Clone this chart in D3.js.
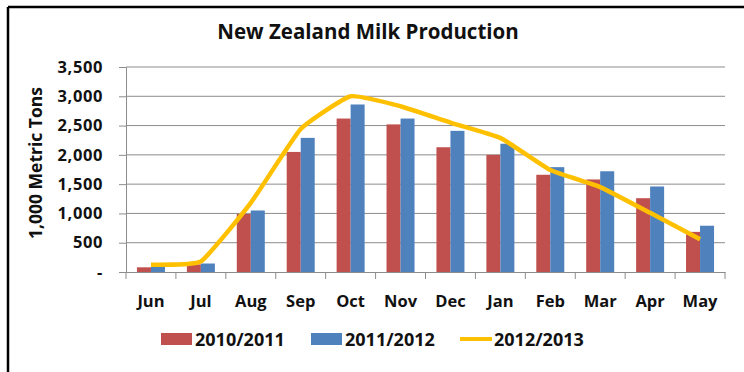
<!DOCTYPE html>
<html><head><meta charset="utf-8">
<script src="https://d3js.org/d3.v7.min.js"></script>
<style>
  body { margin: 0; background: #fff; }
  svg text { font-family: "Open Sans", "Liberation Sans", sans-serif; font-weight: bold; fill: #111; }
</style>
</head>
<body>
<div class="chart"></div>
<script>
var months = ["Jun","Jul","Aug","Sep","Oct","Nov","Dec","Jan","Feb","Mar","Apr","May"];
var s2010 = [80, 130, 990, 2050, 2620, 2520, 2130, 2000, 1660, 1580, 1260, 685];
var s2011 = [95, 145, 1050, 2290, 2860, 2620, 2410, 2190, 1790, 1720, 1460, 790];
var s2012 = [125, 180, 1180, 2440, 3000, 2830, 2550, 2290, 1740, 1450, 1010, 560];
var seriesNames = ["2010/2011", "2011/2012", "2012/2013"];
var yTicks = [0, 500, 1000, 1500, 2000, 2500, 3000, 3500];

var width = 744, height = 372;
var svg = d3.select("div.chart").append("svg")
  .attr("width", width).attr("height", height);

// frame (top + left only, like the clipped screenshot)
svg.append("path").attr("d", "M8,7H744M8,7V372")
  .attr("stroke", "#000").attr("stroke-width", 2.5).attr("fill", "none");

var x = d3.scaleBand().domain(months).range([126, 725]);
var y = d3.scaleLinear().domain([0, 3500]).range([272, 67]);
var xs = d3.scaleBand().domain([0, 1]).range([0, 28]);

// gridlines
svg.append("g").selectAll("line").data(yTicks.slice(1)).enter().append("line")
  .attr("x1", 126).attr("x2", 725)
  .attr("y1", function(d){ return y(d); }).attr("y2", function(d){ return y(d); })
  .attr("stroke", "#8c8c8c").attr("stroke-width", 1);

// y axis
var yAxis = svg.append("g").attr("transform", "translate(126,0)")
  .call(d3.axisLeft(y).tickValues(yTicks).tickSize(7).tickPadding(16)
    .tickFormat(function(d){ return d === 0 ? "-" : d3.format(",")(d); }));
yAxis.select(".domain").attr("stroke", "#8c8c8c");
yAxis.selectAll(".tick line").attr("stroke", "#8c8c8c");
yAxis.selectAll("text").style("font-size", "16.5px").style("letter-spacing", "0.6px").attr("fill", "#111");

// bars
var colors = ["#C0504D", "#4F81BD"];
[s2010, s2011].forEach(function(vals, si) {
  svg.append("g").selectAll("rect").data(vals).enter().append("rect")
    .attr("x", function(d, i){ return x(months[i]) + (x.bandwidth() - 28) / 2 + xs(si); })
    .attr("width", xs.bandwidth())
    .attr("y", function(d){ return y(d); })
    .attr("height", function(d){ return y(0) - y(d); })
    .attr("fill", colors[si]);
});

// x axis
var xAxis = svg.append("g").attr("transform", "translate(0,272)")
  .call(d3.axisBottom(x).tickSize(0).tickPadding(23));
xAxis.select(".domain").attr("stroke", "#8c8c8c");
xAxis.selectAll("text").style("font-size", "16.5px").attr("fill", "#111");
svg.append("g").selectAll("line").data(months.concat(["end"])).enter().append("line")
  .attr("x1", function(d, i){ return 126 + i * x.step(); })
  .attr("x2", function(d, i){ return 126 + i * x.step(); })
  .attr("y1", 272).attr("y2", 279)
  .attr("stroke", "#8c8c8c");

// line
var line = d3.line()
  .x(function(d, i){ return x(months[i]) + x.bandwidth() / 2; })
  .y(function(d){ return y(d); })
  .curve(d3.curveCardinal.tension(0.6));
svg.append("path").datum(s2012).attr("d", line)
  .attr("fill", "none").attr("stroke", "#FFC000").attr("stroke-width", 4.5)
  .attr("stroke-linejoin", "round");

// title
svg.append("text").attr("x", 368).attr("y", 39).attr("text-anchor", "middle")
  .style("font-size", "20.5px").text("New Zealand Milk Production");

// y title
svg.append("text").attr("transform", "translate(42,163) rotate(-90)")
  .attr("text-anchor", "middle").style("font-size", "17.5px").text("1,000 Metric Tons");

// legend
var legend = [
  {x: 161, type: "rect", color: colors[0], name: seriesNames[0]},
  {x: 311, type: "rect", color: colors[1], name: seriesNames[1]},
  {x: 460, type: "line", color: "#FFC000", name: seriesNames[2]}
];
var lg = svg.append("g").selectAll("g").data(legend).enter().append("g")
  .attr("transform", function(d){ return "translate(" + d.x + ",339)"; });
lg.filter(function(d){ return d.type === "rect"; }).append("rect")
  .attr("x", 0).attr("y", -6).attr("width", 31).attr("height", 12)
  .attr("fill", function(d){ return d.color; });
lg.filter(function(d){ return d.type === "line"; }).append("line")
  .attr("x1", 0).attr("x2", 32).attr("y1", 0).attr("y2", 0)
  .attr("stroke", function(d){ return d.color; }).attr("stroke-width", 4);
lg.append("text").attr("x", 34).attr("y", 6.5).style("font-size", "18px")
  .text(function(d){ return d.name; });
</script>
</body></html>
